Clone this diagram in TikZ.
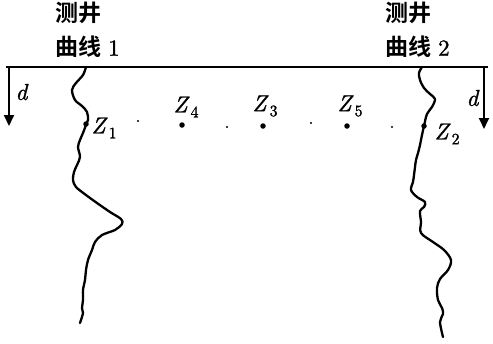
\documentclass[tikz,border=0pt]{standalone}
\usepackage{fontspec}
\newfontfamily\cjk{Noto Sans CJK SC}[BoldFont={* Bold}]
\newfontfamily\zfont{lmroman10}[Extension=.otf,UprightFont=*-regular,ItalicFont=*-italic,BoldFont=*-bold,FakeBold=1.2]
\usetikzlibrary{arrows.meta}
\newcommand{\zlab}[1]{\textit{Z}\kern1pt\raisebox{-5pt}{\fontsize{16}{16}\selectfont #1}}
\begin{document}
\begin{tikzpicture}[x=1pt,y=-1pt,
  well/.style={line width=2.3pt,line join=round,line cap=round},
  axis/.style={line width=1.8pt},
  darrow/.style={line width=1.8pt,-{Triangle[length=11pt,width=10pt]}},
  lbl/.style={inner sep=0pt,font=\fontsize{23}{34}\selectfont,align=left,anchor=north west},
  zl/.style={inner sep=0pt,font=\zfont\fontsize{23}{26}\selectfont},
  bigdot/.style={circle,fill=black,inner sep=0pt,minimum size=5.5pt},
  smalldot/.style={circle,fill=black,inner sep=0pt,minimum size=2.4pt}]
\useasboundingbox (0,0) rectangle (493,343);
% top line
\coordinate (L) at (6,67);
\coordinate (R) at (488,67);
\draw[axis] (L) -- (R);
% depth arrows
\coordinate (a1s) at (9,67);
\coordinate (a1e) at (9,126);
\draw[darrow] (a1s) -- (a1e);
\node[zl] (d1) at (22,92) {\textit{d}};
\coordinate (a2s) at (484,67);
\coordinate (a2e) at (484,129);
\draw[darrow] (a2s) -- (a2e);
\node[zl] (d2) at (473,98) {\textit{d}};
% titles
\node[lbl] (t1) at (55,2) {{\cjk\bfseries 测井}\\{\cjk\bfseries 曲线}\ {\zfont 1}};
\node[lbl] (t2) at (385,2) {{\cjk\bfseries 测井}\\{\cjk\bfseries 曲线}\ {\zfont 2}};
% well curve 1
\draw[well] plot[smooth,tension=0.55] coordinates {(86,67) (83,75) (76,83) (72,90) (75,100) (82,106) (87,112) (88,120) (86,125) (83,133) (80,140) (78,147) (80,157) (77,165) (74,172) (73,180) (76,187) (86,195) (97,203) (110,212) (121,219) (122,224) (115,230) (102,235) (95,242) (92,250) (88,260) (86,270) (85,280) (83,290) (83,300) (82,308) (83,313) (80,323)};
% well curve 2
\draw[well] plot[smooth,tension=0.55] coordinates {(422,67) (419,73) (420,80) (424,88) (430,94) (435,99) (432,107) (427,114) (424,126) (422,135) (420,145) (418,153) (416,160) (415,167) (414,175) (413,182) (411,190) (417,197) (425,202) (424,207) (420,211) (421,222) (421,233) (433,242) (444,250) (451,260) (448,270) (440,279) (437,288) (438,300) (442,308) (443,314) (440,322) (443,337)};
% points
\node[bigdot] (p1) at (86,124) {};
\node[bigdot] (p2) at (424,126) {};
\node[bigdot] (p4) at (182,125) {};
\node[bigdot] (p3) at (263,126) {};
\node[bigdot] (p5) at (347,126) {};
\node[smalldot] (s1) at (138,121) {};
\node[smalldot] (s2) at (227,127) {};
\node[smalldot] (s3) at (311,123) {};
\node[smalldot] (s4) at (392,127) {};
% labels
\node[zl] (z1) at (104,128) {\zlab{1}};
\node[zl] (z4) at (186,107) {\zlab{4}};
\node[zl] (z3) at (265,106) {\zlab{3}};
\node[zl] (z5) at (350,106) {\zlab{5}};
\node[zl] (z2) at (447,134) {\zlab{2}};
\end{tikzpicture}
\end{document}
